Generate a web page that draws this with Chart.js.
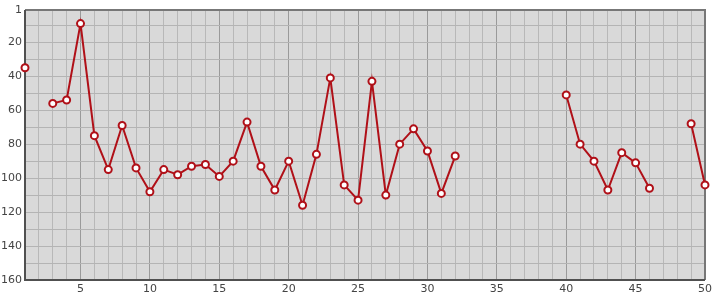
<!DOCTYPE html>
<html lang="en">
<head>
  <meta charset="UTF-8">
  <title>Rank chart</title>
  <script src="https://cdn.jsdelivr.net/npm/chart.js"></script>
  <style>
    html, body { margin: 0; padding: 0; background: #fff; }
    #wrap { width: 715px; height: 300px; }
  </style>
</head>
<body>
  <div id="wrap"><canvas id="rankChart"></canvas></div>

  <script>
    // x positions 1..50 and the value at each (null = no value)
    const positions = [
      1, 2, 3, 4, 5, 6, 7, 8, 9, 10,
      11, 12, 13, 14, 15, 16, 17, 18, 19, 20,
      21, 22, 23, 24, 25, 26, 27, 28, 29, 30,
      31, 32, 33, 34, 35, 36, 37, 38, 39, 40,
      41, 42, 43, 44, 45, 46, 47, 48, 49, 50
    ];
    const ranks = [
      35, null, 56, 54, 9, 75, 95, 69, 94, 108,
      95, 98, 93, 92, 99, 90, 67, 93, 107, 90,
      116, 86, 41, 104, 113, 43, 110, 80, 71, 84,
      109, 87, null, null, null, null, null, null, null, 51,
      80, 90, 107, 85, 91, 106, null, null, 68, 104
    ];
    const yTicks = [1, 10, 20, 30, 40, 50, 60, 70, 80, 90, 100, 110, 120, 130, 140, 150, 160];
    const yLabels = [1, 20, 40, 60, 80, 100, 120, 140, 160];

    // plot background and frame
    const framePlugin = {
      id: 'frame',
      beforeDraw(chart) {
        const { ctx, chartArea: a } = chart;
        ctx.save();
        ctx.fillStyle = '#d9d9d9';
        ctx.fillRect(a.left, a.top, a.right - a.left, a.bottom - a.top);
        ctx.restore();
      },
      beforeDatasetsDraw(chart) {
        const { ctx, chartArea: a } = chart;
        ctx.save();
        ctx.lineWidth = 2;
        ctx.strokeStyle = '#777';
        ctx.beginPath();
        ctx.moveTo(a.left, a.top);
        ctx.lineTo(a.right, a.top);
        ctx.lineTo(a.right, a.bottom);
        ctx.stroke();
        ctx.strokeStyle = '#505050';
        ctx.beginPath();
        ctx.moveTo(a.left, a.top);
        ctx.lineTo(a.left, a.bottom);
        ctx.lineTo(a.right, a.bottom);
        ctx.stroke();
        ctx.restore();
      }
    };

    const ctx = document.getElementById('rankChart').getContext('2d');
    new Chart(ctx, {
      type: 'line',
      data: {
        datasets: [{
          data: positions.map((p, i) => ({ x: p, y: ranks[i] })),
          borderColor: '#b01018',
          borderWidth: 2,
          pointRadius: 3.5,
          pointBorderWidth: 2,
          pointBackgroundColor: '#ffffff',
          pointBorderColor: '#b01018',
          spanGaps: false,
          clip: false,
          tension: 0
        }]
      },
      options: {
        responsive: true,
        maintainAspectRatio: false,
        animation: false,
        layout: { padding: { top: 10, right: 8, left: 0, bottom: 0 } },
        plugins: { legend: { display: false }, tooltip: { enabled: false } },
        scales: {
          x: {
            type: 'linear',
            min: 1,
            max: 50,
            afterBuildTicks: s => { s.ticks = positions.map(v => ({ value: v })); },
            afterFit: s => { s.height = 20; },
            ticks: {
              autoSkip: false,
              maxRotation: 0,
              color: '#444',
              padding: 3,
              font: { family: 'DejaVu Sans', size: 11 },
              callback: v => (v % 5 === 0 ? v : '')
            },
            grid: {
              drawTicks: false,
              lineWidth: 1,
              color: c => (c.tick && c.tick.value % 5 === 0 ? '#9a9a9a' : '#b8b8b8')
            },
            border: { display: false }
          },
          y: {
            type: 'linear',
            reverse: true,
            min: 1,
            max: 160,
            afterBuildTicks: s => { s.ticks = yTicks.map(v => ({ value: v })); },
            afterFit: s => { s.width = 25; },
            ticks: {
              autoSkip: false,
              color: '#444',
              padding: 3,
              font: { family: 'DejaVu Sans', size: 11 },
              callback: v => (yLabels.includes(v) ? v : '')
            },
            grid: {
              drawTicks: false,
              lineWidth: 1,
              color: '#b4b4b4'
            },
            border: { display: false }
          }
        }
      },
      plugins: [framePlugin]
    });
  </script>
</body>
</html>
